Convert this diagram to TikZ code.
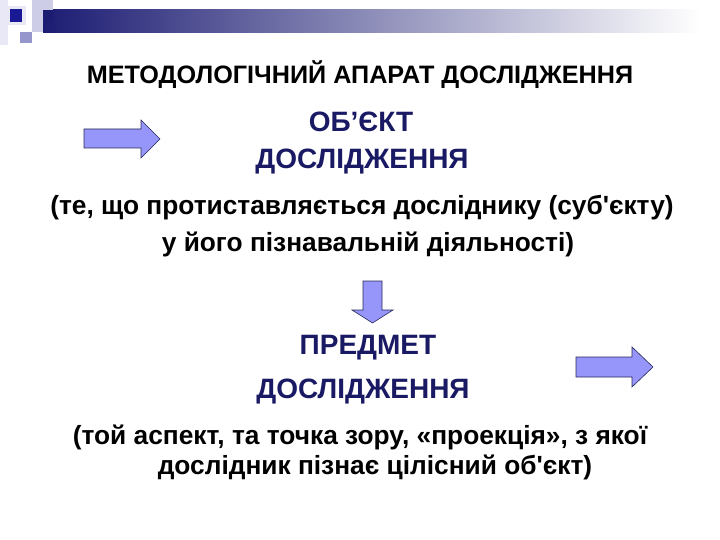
\documentclass[tikz,border=0pt]{standalone}
\usepackage{fontspec}
\setmainfont{Liberation Sans}
\definecolor{navybar}{RGB}{28,28,115}
\definecolor{navytext}{RGB}{26,26,100}
\definecolor{arrowfill}{RGB}{150,150,250}
\definecolor{arrowline}{RGB}{40,40,90}
\definecolor{paleA}{RGB}{232,232,246}
\definecolor{paleB}{RGB}{205,205,232}
\definecolor{midsq}{RGB}{150,150,205}
\definecolor{darksq}{RGB}{25,25,150}
\newcommand{\apos}{\textquotesingle}
\tikzset{
  big/.style={font=\bfseries\fontsize{28}{32}\selectfont, text=navytext, inner sep=0pt, anchor=center},
  body/.style={font=\bfseries\fontsize{26.3}{30}\selectfont, text=black, inner sep=0pt, anchor=center},
  titletext/.style={font=\bfseries\fontsize{25.2}{29}\selectfont, text=black, inner sep=0pt, anchor=center},
  arrowshape/.style={fill=arrowfill, draw=arrowline, line width=0.6pt, line join=miter}
}
\begin{document}
\begin{tikzpicture}[x=1pt,y=-1pt]
\useasboundingbox (0,0) rectangle (720,540);
\fill[white] (0,0) rectangle (720,540);
% header decoration
\fill[paleA] (0,0) rectangle (8,45);
\shade[left color=navybar, right color=white] (43,10) rectangle (700,33);
\fill[paleB] (32,0) rectangle (53,22);
\fill[navybar] (43,10) rectangle (53,22);
\fill[paleB] (32,22) rectangle (43,32);
\fill[midsq] (20,32) rectangle (32,43);
\fill[paleA] (6,6) rectangle (26,25);
\fill[darksq] (10,9) rectangle (22,22);
% texts
\node[titletext] (title) at (360,75) {МЕТОДОЛОГІЧНИЙ АПАРАТ ДОСЛІДЖЕННЯ};
\node[big] (obj1) at (361,122) {ОБ’ЄКТ};
\node[big] (obj2) at (362,162) {ДОСЛІДЖЕННЯ};
\node[body] (objd1) at (362,208) {(те, що протиставляється досліднику (суб\apos єкту)};
\node[body] (objd2) at (368,244) {у його пізнавальній діяльності)};
\node[big] (subj1) at (368,348) {ПРЕДМЕТ};
\node[big] (subj2) at (363,392) {ДОСЛІДЖЕННЯ};
\node[body] (subjd1) at (360,437) {(той аспект, та точка зору, «проекція», з якої};
\node[body] (subjd2) at (375,467) {дослідник пізнає цілісний об\apos єкт)};
% arrows
\draw[arrowshape] (84,129) -- (141,129) -- (141,120) -- (160,139) -- (141,158) -- (141,148) -- (84,148) -- cycle;
\draw[arrowshape] (363,281) -- (382,281) -- (382,310) -- (393,310) -- (372.5,323) -- (352,310) -- (363,310) -- cycle;
\draw[arrowshape] (576,357) -- (632,357) -- (632,347) -- (653,367) -- (632,387) -- (632,377) -- (576,377) -- cycle;
\end{tikzpicture}
\end{document}
